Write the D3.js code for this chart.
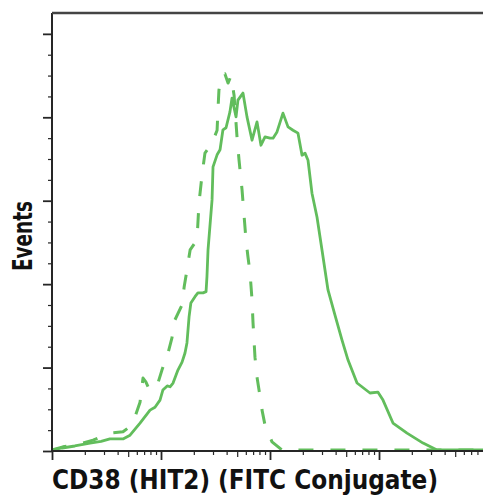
<!DOCTYPE html>
<html>
<head>
<meta charset="utf-8">
<script src="https://cdn.jsdelivr.net/npm/d3@7"></script>
<style>
	html, body { margin: 0; padding: 0; background: #fff; }
	svg { display: block; }
	.lbl { font-family: 'Liberation Sans Narrow', 'DejaVu Sans Condensed', 'Arial Narrow', sans-serif; font-weight: bold; fill: #111; }
</style>
</head>
<body>
<svg id="chart" width="483" height="495"></svg>
<script>

// CD38 (HIT2) stained sample - intensity / events
var sampleX = [1, 1.24, 1.62, 2.23, 2.82, 3.4, 4.48, 5.2, 6.42, 7.93, 8.81, 9.79, 10.4, 11.4, 12.1, 12.9, 14.3, 15.6, 16.6, 17.3, 18.1, 18.8, 20.5, 21.8, 24.3, 25.9, 26.4, 27, 29.4, 30, 32.7, 34.8, 37, 39.5, 42.9, 44.8, 48.8, 50.8, 56.5, 61.5, 68.4, 76, 82.6, 90, 100, 106.6, 115.9, 131.5, 146.3, 162.5, 180.6, 196.7, 209.5, 223.2, 242.7, 269.8, 299.9, 340.4, 394.5, 457.7, 519.8, 628.5, 826.4, 979, 1088, 1343, 1807, 2535, 3404, 8995];
var sampleY = [0.24, 0.72, 1.2, 1.9, 2.3, 2.9, 2.9, 3.8, 6.7, 9.8, 10.5, 12.2, 14.6, 15.6, 15.4, 16.3, 19.4, 21.3, 23.5, 25.9, 32.2, 35.5, 37, 37.9, 37.9, 38.2, 41.8, 48.2, 60.2, 68.1, 71, 72.2, 77, 77.5, 81.3, 84.6, 80.1, 84.1, 85.8, 80.1, 74.5, 78.9, 73.3, 75.3, 75, 75, 76.5, 81, 77.7, 76.9, 76.2, 70.9, 71.4, 69.7, 61.8, 56.1, 48.2, 38.6, 32.6, 26.6, 21.8, 16.3, 13.9, 14.1, 12.2, 6.7, 4.3, 1.9, 0.24, 0.24];

// isotype control - dashed
var controlX = [1, 1.26, 1.92, 2.38, 3.4, 4.48, 4.98, 5.77, 6.42, 6.84, 7.28, 7.76, 8.45, 9.38, 10.2, 11.6, 12.6, 13.4, 15.6, 16.3, 17.3, 18.5, 21.4, 21.8, 22.3, 23.8, 25.3, 29.4, 32.7, 33.3, 34, 36.3, 38.6, 41.2, 43.9, 46.8, 49.8, 52, 55.4, 60.2, 62.8, 65.6, 68.4, 69.8, 71.3, 72.8, 76, 79.3, 84.5, 90, 104.3, 128.8, 8995];
var controlY = [0.24, 1, 1.9, 2.6, 4.3, 4.6, 5.5, 8.2, 11.7, 17.5, 16.5, 14.9, 14.6, 16.3, 19.4, 23.5, 27.1, 31.4, 35, 39.3, 43.4, 48.2, 50.6, 54.6, 59.4, 66.2, 71.4, 73.8, 76.9, 81.7, 86.5, 90.1, 90.4, 88.2, 89.9, 85.3, 75.3, 69.7, 62.6, 50.6, 46.5, 42.7, 36.2, 30.9, 26.6, 22.5, 17.7, 14.6, 9.8, 6.2, 2.2, 0.24, 0.24];

var yMajor = [0, 20, 40, 60, 80, 100];
var yMinor = [5, 10, 15, 25, 30, 35, 45, 50, 55, 65, 70, 75, 85, 90, 95];
var xMajor = [1, 10, 100, 1000];
var xMid = [5, 50, 500, 5000];
var xMinor = [2, 3, 4, 6, 7, 8, 9, 20, 30, 40, 60, 70, 80, 90, 200, 300, 400, 600, 700, 800, 900, 2000, 3000, 4000, 6000, 7000, 8000];

var xTitle = 'CD38 (HIT2) (FITC Conjugate)';
var yTitle = 'Events';

var green = '#62bd5c';
var ink = '#262626';

var svg = d3.select('#chart');
var x = d3.scaleLog().domain([1, 8995]).range([52, 483]);
var y = d3.scaleLinear().domain([0, 105]).range([451, 13]);

function zip(xs, ys) {
	return xs.map(function(v, i) { return [v, ys[i]]; });
}

var line = d3.line().x(function(d) { return x(d[0]); }).y(function(d) { return y(d[1]); });

svg.append('path').datum(zip(controlX, controlY))
	.attr('d', line).attr('fill', 'none').attr('stroke', green)
	.attr('stroke-width', 3).attr('stroke-dasharray', '15,17').attr('stroke-linejoin', 'round');

svg.append('path').datum(zip(sampleX, sampleY))
	.attr('d', line).attr('fill', 'none').attr('stroke', green)
	.attr('stroke-width', 2.8).attr('stroke-linejoin', 'round');

function ticks(axis, values, size) {
	var g = svg.append('g');
	if (axis === 'x')
		g.attr('transform', 'translate(0,' + y(0) + ')').call(d3.axisBottom(x).tickValues(values).tickSize(size).tickSizeOuter(0).tickFormat(''));
	else
		g.attr('transform', 'translate(' + x(1) + ',0)').call(d3.axisLeft(y).tickValues(values).tickSize(size).tickSizeOuter(0).tickFormat(''));
	g.select('.domain').remove();
	g.selectAll('line').attr('stroke', ink).attr('stroke-width', size > 6 ? 1.8 : 1.2);
	return g;
}

ticks('y', yMinor, 4);
ticks('y', yMajor, 9);
ticks('x', xMinor, 4);
ticks('x', xMid, 6);
ticks('x', xMajor, 9);

// frame: left, bottom, top
svg.append('line').attr('x1', x(1)).attr('x2', x(1)).attr('y1', y(105)).attr('y2', y(0)).attr('stroke', ink).attr('stroke-width', 2);
svg.append('line').attr('x1', x(1)).attr('x2', 483).attr('y1', y(0)).attr('y2', y(0)).attr('stroke', ink).attr('stroke-width', 2);
svg.append('line').attr('x1', x(1)).attr('x2', 483).attr('y1', y(105)).attr('y2', y(105)).attr('stroke', '#444').attr('stroke-width', 2.5);

svg.append('text').attr('class', 'lbl')
	.attr('x', 245).attr('y', 489).attr('text-anchor', 'middle')
	.attr('font-size', 27).attr('textLength', 386).attr('lengthAdjust', 'spacingAndGlyphs')
	.text(xTitle);

svg.append('text').attr('class', 'lbl')
	.attr('transform', 'translate(32,236) rotate(-90)').attr('text-anchor', 'middle')
	.attr('font-size', 27).attr('textLength', 70).attr('lengthAdjust', 'spacingAndGlyphs')
	.text(yTitle);

</script>
</body>
</html>
